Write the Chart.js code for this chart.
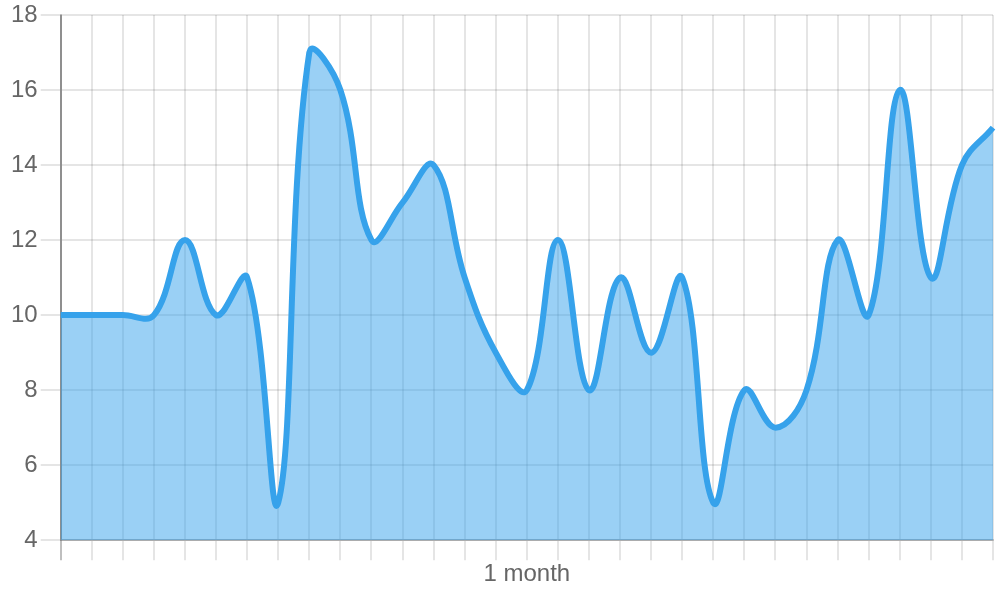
<!DOCTYPE html>
<html>
<head>
<meta charset="utf-8">
<style>
  html, body { margin: 0; padding: 0; background: #fff; }
  #wrap { width: 1000px; height: 600px; }
</style>
<script src="https://cdn.jsdelivr.net/npm/chart.js@4.4.0/dist/chart.umd.min.js"></script>
</head>
<body>
<div id="wrap"><canvas id="chart"></canvas></div>
<script>
// ── Data ────────────────────────────────────────────────────────────
var days = ['1', '2', '3', '4', '5', '6', '7', '8', '9', '10', '11', '12', '13', '14', '15', '16',
  '17', '18', '19', '20', '21', '22', '23', '24', '25', '26', '27', '28', '29', '30', '31'];
var values = [10, 10, 10, 10, 12, 10, 11, 5, 17, 16, 12, 13, 14, 11, 9, 8,
  12, 8, 11, 9, 11, 5, 8, 7, 8, 12, 10, 16, 11, 14, 15];
var yTicks = [4, 6, 8, 10, 12, 14, 16, 18];
var xTitle = '1 month';

// ── Styles ──────────────────────────────────────────────────────────
var blue = 'rgb(54, 162, 235)';
var blueFill = 'rgba(54, 162, 235, 0.5)';
var gridColor = 'rgba(0, 0, 0, 0.1)';
var textColor = '#666';
var font = { family: '"Liberation Sans", Arial, sans-serif', size: 24 };

new Chart(document.getElementById('chart'), {
  type: 'line',
  data: {
    labels: days,
    datasets: [{
      data: values,
      borderColor: blue,
      backgroundColor: blueFill,
      borderWidth: 6,
      pointRadius: 0,
      tension: 0.4,
      fill: true,
    }],
  },
  options: {
    responsive: true,
    maintainAspectRatio: false,
    animation: false,
    layout: { padding: { left: 8, right: 7, top: 0, bottom: 6 } },
    plugins: { legend: { display: false }, tooltip: { enabled: false } },
    scales: {
      x: {
        ticks: { display: false },
        grid: {
          lineWidth: 2,
          tickLength: 20,
          // first line is the darker "zero line"
          color: function (ctx) { return ctx.index === 0 ? 'rgba(0,0,0,0.25)' : gridColor; },
        },
        border: { color: 'rgba(0,0,0,0.25)', width: 2 },
        title: { display: true, text: xTitle, color: textColor, font: font, padding: { top: 0, bottom: 5 } },
      },
      y: {
        min: yTicks[0],
        max: yTicks[yTicks.length - 1],
        afterBuildTicks: function (scale) {
          scale.ticks = yTicks.map(function (v) { return { value: v }; });
        },
        ticks: { color: textColor, font: { family: font.family, size: 24, lineHeight: 1 }, padding: 3 },
        grid: { lineWidth: 2, tickLength: 20, color: gridColor },
        border: { color: 'rgba(0,0,0,0.25)', width: 2 },
      },
    },
  },
});
</script>
</body>
</html>
